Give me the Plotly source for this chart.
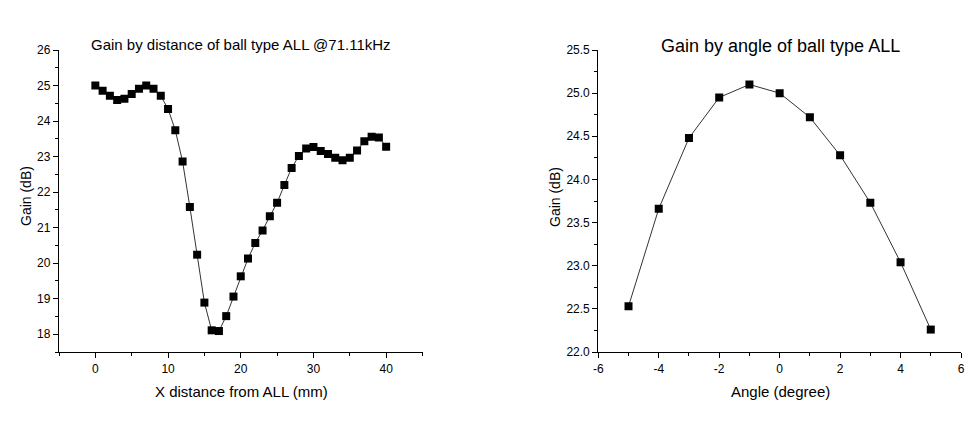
import plotly.graph_objects as go

dist_mm = list(range(0, 41))
gain_dist_db = [25.00, 24.85, 24.71, 24.59, 24.63, 24.76, 24.91, 25.00, 24.91, 24.71,
                24.34, 23.74, 22.86, 21.58, 20.24, 18.89, 18.11, 18.09, 18.51, 19.06,
                19.63, 20.13, 20.57, 20.92, 21.32, 21.70, 22.20, 22.68, 23.02, 23.23,
                23.27, 23.16, 23.07, 22.97, 22.90, 22.97, 23.17, 23.43, 23.56, 23.54,
                23.28]

angle_deg = [-5, -4, -3, -2, -1, 0, 1, 2, 3, 4, 5]
gain_angle_db = [22.53, 23.66, 24.48, 24.95, 25.10, 25.00, 24.72, 24.28, 23.73, 23.04, 22.26]

angle_tick_vals = [-6, -4, -2, 0, 2, 4, 6]
angle_tick_text = ["-6", "-4", "-2", "0", "2", "4", "6"]

title_left = "Gain by distance of ball type ALL @71.11kHz"
title_right = "Gain by angle of ball type ALL"
xlabel_left = "X distance from ALL (mm)"
xlabel_right = "Angle (degree)"
ylabel = "Gain (dB)"

W, H = 977, 423
FONT = "Liberation Sans, Arial, sans-serif"

fig = go.Figure()
line_style = dict(color="#333333", width=1)
marker_style = dict(symbol="square", size=8, color="black")
fig.add_trace(go.Scatter(x=dist_mm, y=gain_dist_db, mode="lines+markers",
                         line=line_style, marker=marker_style, xaxis="x", yaxis="y",
                         showlegend=False))
fig.add_trace(go.Scatter(x=angle_deg, y=gain_angle_db, mode="lines+markers",
                         line=line_style, marker=marker_style, xaxis="x2", yaxis="y2",
                         showlegend=False))

def px_x(p):
    return p / W

def px_y(p):
    return 1 - p / H

ydom = [px_y(352), px_y(50)]
common = dict(showline=True, linecolor="black", linewidth=1.3, mirror=False,
              ticks="outside", ticklen=5, tickwidth=1.2, tickcolor="black",
              showgrid=False, zeroline=False, automargin=False,
              tickfont=dict(family=FONT, size=12, color="black"))

fig.update_layout(
    template="none",
    width=W, height=H,
    margin=dict(l=0, r=0, t=0, b=0, pad=0, autoexpand=False),
    paper_bgcolor="white", plot_bgcolor="white",
    font=dict(family=FONT, color="black"),
    xaxis=dict(domain=[px_x(59), px_x(422.5)], range=[-5, 45], dtick=10, tick0=0,
               minor=dict(dtick=5, tick0=0, ticks="outside", ticklen=3, tickcolor="black"),
               anchor="y", **common),
    yaxis=dict(domain=ydom, range=[17.5, 26], dtick=1, tick0=0,
               minor=dict(dtick=0.5, tick0=0, ticks="outside", ticklen=3, tickcolor="black"),
               anchor="x", **common),
    xaxis2=dict(domain=[px_x(598.3), px_x(961)], range=[-6, 6],
                tickmode="array", tickvals=angle_tick_vals, ticktext=angle_tick_text,
                minor=dict(dtick=1, tick0=0, ticks="outside", ticklen=3, tickcolor="black"),
                anchor="y2", **common),
    yaxis2=dict(domain=ydom, range=[22, 25.5], dtick=0.5, tick0=0, tickformat=".1f",
                minor=dict(dtick=0.25, tick0=0, ticks="outside", ticklen=3, tickcolor="black"),
                anchor="x2", **common),
)

ann = [
    dict(text=title_left, x=px_x(241), y=px_y(44), size=15),
    dict(text=title_right, x=px_x(780), y=px_y(46), size=18),
    dict(text=xlabel_left, x=px_x(241), y=px_y(391), size=15),
    dict(text=xlabel_right, x=px_x(780), y=px_y(391), size=15),
]
for a in ann:
    fig.add_annotation(text=a["text"], x=a["x"], y=a["y"], xref="paper", yref="paper",
                       showarrow=False, xanchor="center", yanchor="middle",
                       font=dict(family=FONT, size=a["size"], color="black"))
for xp, yp in ((26, 196), (555, 197)):
    fig.add_annotation(text=ylabel, x=px_x(xp), y=px_y(yp), xref="paper", yref="paper",
                       showarrow=False, xanchor="center", yanchor="middle", textangle=-90,
                       font=dict(family=FONT, size=14, color="black"))

fig.write_html("out.html", config={"displayModeBar": False},
               post_script="document.body.style.margin='0';document.body.style.padding='0';")
